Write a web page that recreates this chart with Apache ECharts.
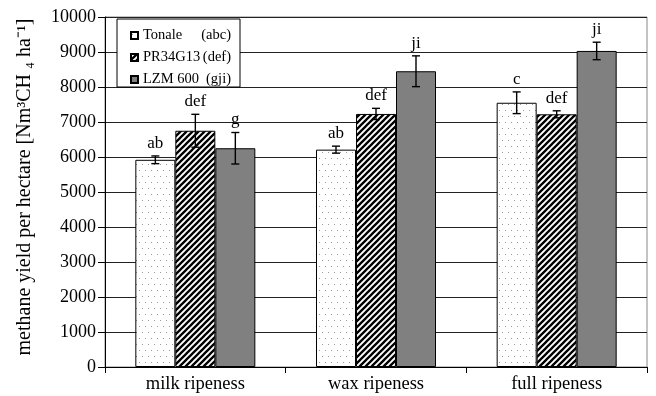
<!DOCTYPE html>
<html><head><meta charset="utf-8">
<script src="https://cdn.jsdelivr.net/npm/echarts@6/dist/echarts.min.js"></script>
<style>html,body{margin:0;padding:0;background:#fff}#c{width:656px;height:396px}</style>
</head><body><div id="c"></div>
<script>
var categories = ['milk ripeness', 'wax ripeness', 'full ripeness'];
var seriesNames = ['Tonale', 'PR34G13', 'LZM 600'];
var groupLetters = ['(abc)', '(def)', '(gji)'];
var tonale = [5920, 6210, 7550];
var pr34g13 = [6750, 7230, 7220];
var lzm600 = [6250, 8450, 9030];
var tonaleErr = [110, 100, 310];
var pr34g13Err = [470, 160, 100];
var lzm600Err = [450, 440, 250];
var tonaleSig = ['ab', 'ab', 'c'];
var pr34g13Sig = ['def', 'def', 'def'];
var lzm600Sig = ['g', 'ji', 'ji'];
var yTicks = [0, 1000, 2000, 3000, 4000, 5000, 6000, 7000, 8000, 9000, 10000];

var FONT = '"Liberation Serif", "Times New Roman", serif';

function dotPattern() {
  var c = document.createElement('canvas'); c.width = 6; c.height = 12;
  var g = c.getContext('2d');
  g.fillStyle = '#fff'; g.fillRect(0, 0, 6, 12);
  g.fillStyle = '#9a9a9a';
  g.fillRect(1, 2, 1, 1); g.fillRect(4, 8, 1, 1);
  return c;
}
function stripePattern() {
  var s = 6;
  var c = document.createElement('canvas'); c.width = s; c.height = s;
  var g = c.getContext('2d');
  g.fillStyle = '#fff'; g.fillRect(0, 0, s, s);
  g.strokeStyle = '#000'; g.lineWidth = 2.3;
  g.beginPath();
  g.moveTo(-1, s + 1); g.lineTo(s + 1, -1);
  g.moveTo(-s / 2 - 1, s / 2 + 1); g.lineTo(s / 2 + 1, -s / 2 - 1);
  g.moveTo(s / 2 - 1, s * 1.5 + 1); g.lineTo(s * 1.5 + 1, s / 2 - 1);
  g.stroke();
  return c;
}

var values = [tonale, pr34g13, lzm600];
var errs = [tonaleErr, pr34g13Err, lzm600Err];
var sigs = [tonaleSig, pr34g13Sig, lzm600Sig];
var fills = [
  { image: dotPattern(), repeat: 'repeat' },
  { image: stripePattern(), repeat: 'repeat' },
  '#808080'
];
var BAR_W = 40;

var series = [];
seriesNames.forEach(function (name, i) {
  series.push({
    name: name, type: 'bar', data: values[i], barWidth: BAR_W, barGap: '0%',
    itemStyle: { color: fills[i], borderColor: '#000', borderWidth: 1 },
    z: 2
  });
});
seriesNames.forEach(function (name, i) {
  var data = categories.map(function (c, k) {
    return [k, values[i][k] - errs[i][k], values[i][k] + errs[i][k], sigs[i][k]];
  });
  series.push({
    type: 'custom', name: name + ' err', data: data, z: 5, silent: true,
    encode: { x: 0, y: [1, 2] },
    renderItem: function (params, api) {
      var lo = api.coord([api.value(0), api.value(1)]);
      var hi = api.coord([api.value(0), api.value(2)]);
      var x = lo[0] + (i - 1) * BAR_W;
      var cap = 4;
      var st = { stroke: '#000', lineWidth: 1.4 };
      return {
        type: 'group', children: [
          { type: 'line', shape: { x1: x, y1: lo[1], x2: x, y2: hi[1] }, style: st },
          { type: 'line', shape: { x1: x - cap, y1: lo[1], x2: x + cap, y2: lo[1] }, style: st },
          { type: 'line', shape: { x1: x - cap, y1: hi[1], x2: x + cap, y2: hi[1] }, style: st },
          { type: 'text', style: { text: sigs[i][params.dataIndex], x: x, y: hi[1] - 4,
              align: 'center', verticalAlign: 'bottom', fill: '#000', font: '17px ' + FONT } }
        ]
      };
    }
  });
});

var chart = echarts.init(document.getElementById('c'), null, { renderer: 'canvas' });
chart.setOption({
  animation: false,
  backgroundColor: '#fff',
  textStyle: { fontFamily: FONT },
  grid: { left: 105, right: 9, top: 17, bottom: 29, show: true, borderColor: '#888', borderWidth: 1 },
  legend: {
    data: seriesNames, orient: 'vertical', left: 117, top: 19,
    padding: [9, 9, 0, 13],
    backgroundColor: '#fff', borderColor: '#000', borderWidth: 1,
    itemWidth: 7, itemHeight: 7, itemGap: 7,
    icon: 'rect',
    formatter: function (n) {
      return '{n|' + n + '}{l|' + groupLetters[seriesNames.indexOf(n)] + '}';
    },
    textStyle: {
      fontFamily: FONT, fontSize: 14.5, color: '#000', lineHeight: 14,
      rich: {
        n: { width: 58, fontFamily: FONT, fontSize: 14.5, color: '#000' },
        l: { width: 30, align: 'right', fontFamily: FONT, fontSize: 14.5, color: '#000' }
      }
    }
  },
  xAxis: {
    type: 'category', data: categories,
    axisLine: { lineStyle: { color: '#000', width: 1 } },
    axisTick: { show: true, length: 6, alignWithLabel: false, lineStyle: { color: '#000' } },
    axisLabel: { fontSize: 18.5, color: '#000', fontFamily: FONT, margin: 8 },
    splitLine: { show: false }
  },
  yAxis: {
    type: 'value', min: 0, max: 10000, interval: 1000,
    name: 'methane yield per hectare [Nm³CH ₄ ha⁻¹]',
    nameLocation: 'middle', nameGap: 70, nameRotate: 90,
    nameTextStyle: { fontSize: 20, color: '#000', fontFamily: FONT, padding: [0, 0, 0, 10] },
    axisLine: { show: true, lineStyle: { color: '#000', width: 1 } },
    axisTick: { show: true, length: 7, lineStyle: { color: '#000' } },
    axisLabel: { fontSize: 18, color: '#000', fontFamily: FONT, margin: 9,
      formatter: function (v) { return yTicks.indexOf(v) >= 0 ? String(v) : ''; } },
    splitLine: { show: true, lineStyle: { color: '#222', width: 1 } }
  },
  series: series
});
</script></body></html>
